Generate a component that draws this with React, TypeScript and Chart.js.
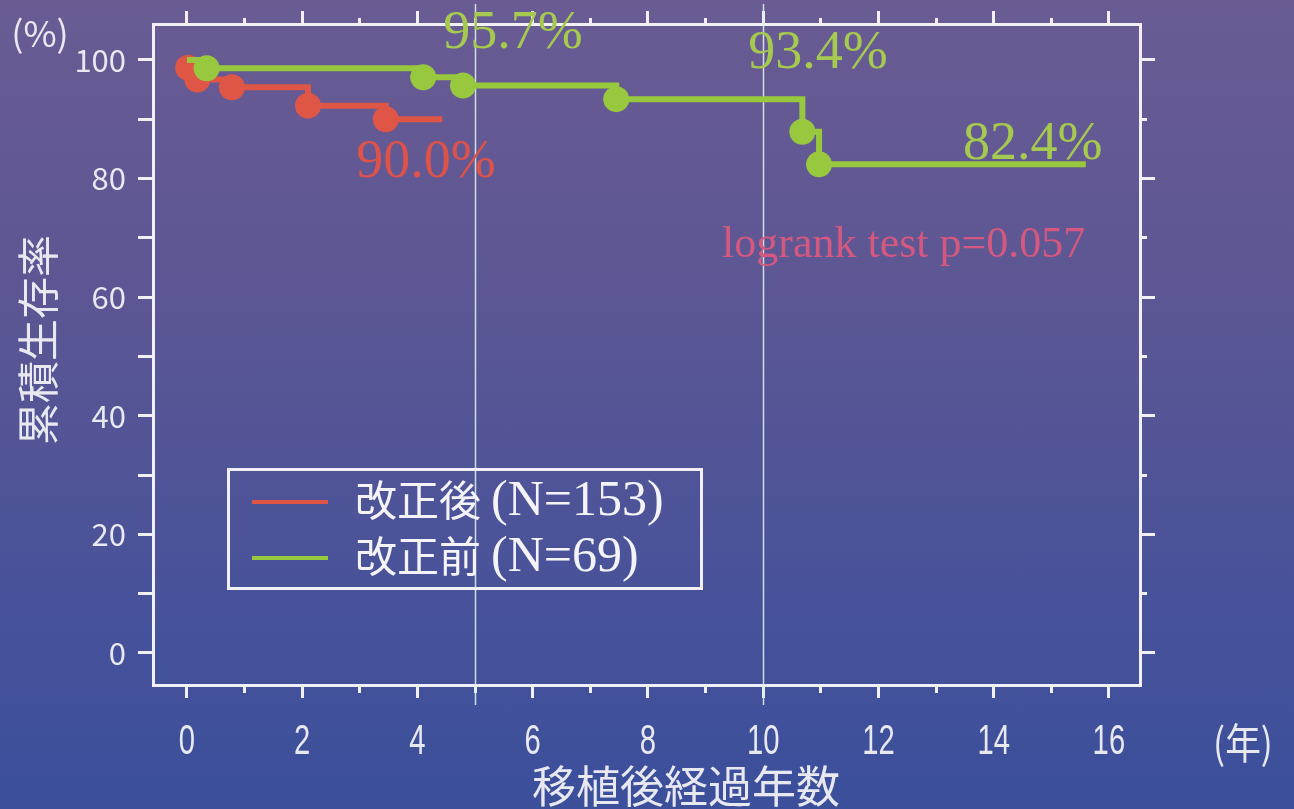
import { useEffect, useRef } from 'react';
import { Chart, registerables } from 'chart.js';

Chart.register(...registerables);

// 改正後 cohort: follow-up years at each step and cumulative survival (%) after it
const AFTER_NAME = '改正後';
const AFTER_COUNT = 153;
const AFTER_YEARS = [0, 0.02, 0.18, 0.78, 2.1, 3.45, 4.43];
const AFTER_SURVIVAL = [100, 98.7, 96.7, 95.4, 92.3, 90.0, 90.0];

// 改正前 cohort
const BEFORE_NAME = '改正前';
const BEFORE_COUNT = 69;
const BEFORE_YEARS = [0, 0.34, 4.1, 4.79, 7.45, 10.68, 10.97, 15.6];
const BEFORE_SURVIVAL = [100, 98.6, 97.1, 95.7, 93.4, 87.9, 82.4, 82.4];

// axis ticks
const YEAR_TICKS = [0, 2, 4, 6, 8, 10, 12, 14, 16];
const YEAR_MINOR_TICKS = [1, 3, 5, 7, 9, 11, 13, 15];
const RATE_TICKS = [0, 20, 40, 60, 80, 100];
const RATE_MINOR_TICKS = [10, 30, 50, 70, 90];
const RATE_ALL_TICKS = [0, 10, 20, 30, 40, 50, 60, 70, 80, 90, 100];

// reference years marked with thin vertical lines
const MILESTONE_YEARS = [5, 10];
const LOGRANK_P = '0.057';

const X_MIN = -0.59;
const X_MAX = 16.54;
const Y_MIN = -5.4;
const Y_MAX = 106.07;

const GREEN = '#98c83e';
const GREEN_TEXT = '#a6c94f';
const RED = '#e05646';
const RED_TEXT = '#dd5249';
const PINK_TEXT = '#d4587f';
const AXIS_WHITE = '#f1f1f5';
const LABEL_WHITE = '#e8e8f0';
const SANS = "'Noto Sans CJK JP', 'Noto Sans', sans-serif";
const LATIN_SANS = "'Liberation Sans', Arial, sans-serif";
const SERIF = "'Liberation Serif', 'DejaVu Serif', serif";

function survivalAt(years: number[], survival: number[], t: number): number {
  let v = survival[0];
  years.forEach((y, i) => {
    if (y <= t) v = survival[i];
  });
  return v;
}

const pinTicks = (values: number[]) => (scale: any) => {
  scale.ticks = values.map((value) => ({ value }));
};

const fixSize = (w: number | null, h: number | null) => (scale: any) => {
  if (w !== null) scale.width = w;
  if (h !== null) scale.height = h;
  scale.paddingTop = 0;
  scale.paddingBottom = 0;
  scale.paddingLeft = 0;
  scale.paddingRight = 0;
};

function markAxis(
  axis: 'x' | 'y',
  position: string,
  values: number[],
  tickLength: number,
  withBorder: boolean,
) {
  const horizontal = axis === 'x';
  return {
    type: 'linear',
    axis,
    position,
    min: horizontal ? X_MIN : Y_MIN,
    max: horizontal ? X_MAX : Y_MAX,
    weight: -1,
    afterBuildTicks: pinTicks(values),
    afterFit: horizontal ? fixSize(null, 0) : fixSize(0, null),
    grid: {
      drawOnChartArea: false,
      drawTicks: true,
      tickLength,
      color: AXIS_WHITE,
      lineWidth: 3,
    },
    border: { display: withBorder, color: AXIS_WHITE, width: 3 },
    ticks: { display: false },
  };
}

function kmDataset(label: string, years: number[], survival: number[], color: string) {
  return {
    label,
    data: years.map((t, i) => ({ x: t, y: survival[i] })),
    borderColor: color,
    backgroundColor: color,
    borderWidth: 6,
    stepped: 'before' as const,
    pointRadius: years.map((_, i) => (i === 0 || i === years.length - 1 ? 0 : 13)),
    pointHoverRadius: 0,
    pointBorderWidth: 0,
    fill: false,
    xAxisID: 'x',
    yAxisID: 'y',
  };
}

export default function App() {
  const canvasRef = useRef<HTMLCanvasElement | null>(null);

  useEffect(() => {
    const canvas = canvasRef.current;
    if (!canvas) return;

    const cohorts: Record<string, { years: number[]; survival: number[]; color: string }> = {
      before: { years: BEFORE_YEARS, survival: BEFORE_SURVIVAL, color: GREEN_TEXT },
      after: { years: AFTER_YEARS, survival: AFTER_SURVIVAL, color: RED_TEXT },
    };

    // survival read-outs: anchor is text centre (x) and baseline (y) in axis units
    const readouts = [
      { cohort: 'before', year: 5, x: 5.66, y: 102.0 },
      { cohort: 'after', year: Infinity, x: 4.15, y: 80.3 },
      { cohort: 'before', year: 10, x: 10.95, y: 98.6 },
      { cohort: 'before', year: Infinity, x: 14.68, y: 83.3 },
    ];

    const overlay = {
      id: 'kmOverlay',
      beforeDatasetsDraw(chart: any) {
        const { ctx, chartArea } = chart;
        const xs = chart.scales.x;
        ctx.save();
        ctx.strokeStyle = 'rgba(215,240,236,0.9)';
        ctx.lineWidth = 1.5;
        MILESTONE_YEARS.forEach((yr) => {
          const px = Math.round(xs.getPixelForValue(yr)) + 0.5;
          ctx.beginPath();
          ctx.moveTo(px, chartArea.top - 20);
          ctx.lineTo(px, chartArea.bottom + 20);
          ctx.stroke();
        });
        ctx.restore();
      },
      afterDraw(chart: any) {
        const { ctx, chartArea } = chart;
        const xs = chart.scales.x;
        const ys = chart.scales.y;
        ctx.save();

        // year tick labels in a narrow face, placed on the x scale's ticks
        ctx.fillStyle = LABEL_WHITE;
        ctx.textAlign = 'center';
        ctx.textBaseline = 'middle';
        ctx.font = `43px ${LATIN_SANS}`;
        xs.ticks.forEach((tick: any) => {
          ctx.save();
          ctx.translate(xs.getPixelForValue(tick.value), chartArea.bottom + 57);
          ctx.scale(0.68, 1);
          ctx.fillText(String(tick.value), 0, 0);
          ctx.restore();
        });

        // survival read-outs
        ctx.font = `54px ${SERIF}`;
        ctx.textAlign = 'center';
        ctx.textBaseline = 'alphabetic';
        readouts.forEach((r) => {
          const c = cohorts[r.cohort];
          const v = survivalAt(c.years, c.survival, r.year);
          ctx.fillStyle = c.color;
          ctx.fillText(`${v.toFixed(1)}%`, xs.getPixelForValue(r.x), ys.getPixelForValue(r.y));
        });

        // log-rank result
        ctx.font = `44px ${SERIF}`;
        ctx.textAlign = 'left';
        ctx.fillStyle = PINK_TEXT;
        ctx.fillText(`logrank test p=${LOGRANK_P}`, 722, 257);

        // axis titles and units
        ctx.fillStyle = LABEL_WHITE;
        ctx.textAlign = 'center';
        ctx.textBaseline = 'middle';
        ctx.font = `36px ${SANS}`;
        ctx.fillText('(%)', 40, 33);
        ctx.save();
        ctx.translate(1243, 743);
        ctx.scale(0.85, 1);
        ctx.font = `42px ${SANS}`;
        ctx.fillText('(年)', 0, 0);
        ctx.restore();
        ctx.font = `44px ${SANS}`;
        ctx.fillText('移植後経過年数', 686, 786);
        ctx.save();
        ctx.translate(38, 340);
        ctx.rotate(-Math.PI / 2);
        ctx.font = `42px ${SANS}`;
        ctx.fillText('累積生存率', 0, 0);
        ctx.restore();

        // legend
        ctx.strokeStyle = AXIS_WHITE;
        ctx.lineWidth = 3;
        ctx.strokeRect(228.5, 469.5, 473, 119);
        const rows = [
          { name: AFTER_NAME, n: AFTER_COUNT, color: RED, y: 500 },
          { name: BEFORE_NAME, n: BEFORE_COUNT, color: GREEN, y: 556 },
        ];
        rows.forEach((row) => {
          ctx.strokeStyle = row.color;
          ctx.lineWidth = 4;
          ctx.beginPath();
          ctx.moveTo(252, row.y + 2);
          ctx.lineTo(328, row.y + 2);
          ctx.stroke();
          ctx.fillStyle = '#f4f4f8';
          ctx.textAlign = 'left';
          ctx.textBaseline = 'middle';
          ctx.font = `42px ${SANS}`;
          ctx.fillText(row.name, 355, row.y);
          const w = ctx.measureText(row.name).width;
          ctx.font = `50px ${SERIF}`;
          ctx.fillText(`(N=${row.n})`, 355 + w + 10, row.y + 2);
        });

        ctx.restore();
      },
    };

    const chart = new Chart(canvas, {
      type: 'line',
      data: {
        datasets: [
          kmDataset(BEFORE_NAME, BEFORE_YEARS, BEFORE_SURVIVAL, GREEN),
          kmDataset(AFTER_NAME, AFTER_YEARS, AFTER_SURVIVAL, RED),
        ] as any,
      },
      options: {
        animation: false,
        responsive: false,
        devicePixelRatio: 1,
        events: [],
        layout: { padding: { top: 24, right: 154, left: 0, bottom: 0 } },
        plugins: {
          legend: { display: false },
          tooltip: { enabled: false },
        },
        scales: {
          x: {
            type: 'linear',
            axis: 'x',
            position: 'bottom',
            min: X_MIN,
            max: X_MAX,
            afterBuildTicks: pinTicks(YEAR_TICKS),
            afterFit: fixSize(null, 124),
            grid: {
              drawOnChartArea: false,
              drawTicks: true,
              tickLength: 13,
              color: AXIS_WHITE,
              lineWidth: 3,
            },
            border: { display: true, color: AXIS_WHITE, width: 3 },
            ticks: { display: false },
          },
          xMinor: markAxis('x', 'bottom', YEAR_MINOR_TICKS, 8, false),
          xTop: markAxis('x', 'top', YEAR_TICKS, 13, true),
          xTopMinor: markAxis('x', 'top', YEAR_MINOR_TICKS, 6, false),
          y: {
            type: 'linear',
            axis: 'y',
            position: 'left',
            min: Y_MIN,
            max: Y_MAX,
            afterBuildTicks: pinTicks(RATE_ALL_TICKS),
            afterFit: fixSize(153, null),
            grid: {
              drawOnChartArea: false,
              drawTicks: true,
              tickLength: 15,
              color: AXIS_WHITE,
              lineWidth: 3,
            },
            border: { display: true, color: AXIS_WHITE, width: 3 },
            ticks: {
              color: LABEL_WHITE,
              font: { family: SANS, size: 31 },
              padding: 12,
              autoSkip: false,
              callback: (v: any) => (RATE_TICKS.includes(Number(v)) ? String(v) : ''),
            },
          },
          yRight: markAxis('y', 'right', RATE_TICKS, 15, true),
          yRightMinor: markAxis('y', 'right', RATE_MINOR_TICKS, 7, false),
        } as any,
      },
      plugins: [overlay],
    });

    return () => chart.destroy();
  }, []);

  return (
    <div
      style={{
        position: 'absolute',
        left: 0,
        top: 0,
        width: 1294,
        height: 809,
        background: 'linear-gradient(180deg, #6a5b93 0%, #5a5694 40%, #47529a 75%, #3b4f9b 100%)',
      }}
    >
      <canvas ref={canvasRef} width={1294} height={809} style={{ display: 'block' }} />
    </div>
  );
}
